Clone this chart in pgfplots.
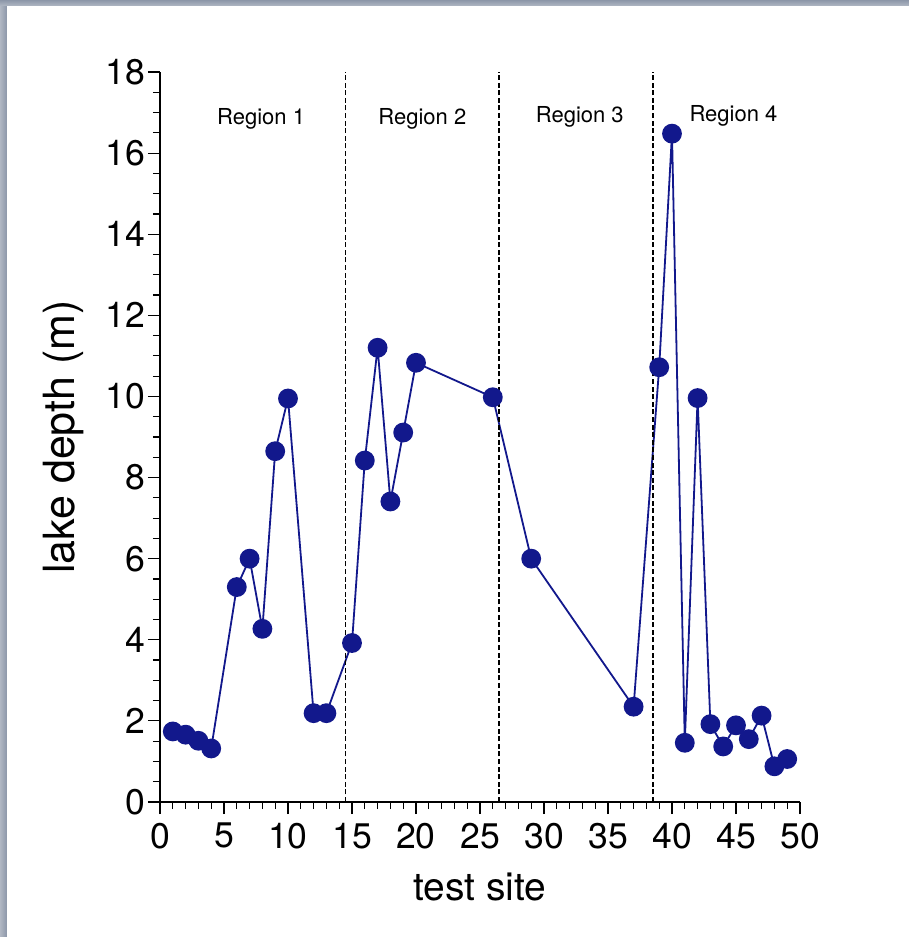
\documentclass[border=0pt]{standalone}
\usepackage{pgfplots}
\pgfplotsset{compat=1.18}
\usepackage{fontspec}
\setmainfont{TeX Gyre Heros}
\definecolor{navy}{RGB}{18,24,140}
\definecolor{frameA}{RGB}{140,150,168}
\definecolor{frameB}{RGB}{176,183,195}

\pgfplotstableread{
x y
1 1.74
2 1.66
3 1.51
4 1.32
6 5.30
7 6.00
8 4.27
9 8.65
10 9.95
12 2.19
13 2.19
15 3.92
16 8.42
17 11.20
18 7.41
19 9.11
20 10.83
26 9.98
29 6.00
37 2.35
39 10.72
40 16.48
41 1.46
42 9.96
43 1.92
44 1.37
45 1.89
46 1.55
47 2.13
48 0.88
49 1.06
}\depth

\begin{document}
\begin{tikzpicture}
\useasboundingbox (-80pt,-67.5pt) rectangle (374.5pt,401pt);
% page background and window edge
\fill[white] (-80pt,-67.5pt) rectangle (374.5pt,401pt);
\shade[left color=frameB, right color=frameA] (-80pt,-67.5pt) rectangle (-76.5pt,401pt);
\shade[top color=frameA, bottom color=frameB] (-80pt,398pt) rectangle (374.5pt,401pt);

\begin{axis}[
  at={(0pt,0pt)}, anchor=south west,
  scale only axis, width=320pt, height=365pt,
  xmin=0, xmax=50, ymin=0, ymax=18,
  axis x line*=bottom, axis y line*=left,
  axis line style={line width=0.7pt, black},
  xtick={0,5,...,50}, ytick={0,2,...,18},
  minor x tick num=4, minor y tick num=3,
  tick align=outside,
  major tick length=6pt, minor tick length=3.5pt,
  tick style={line width=0.6pt, black},
  /pgf/number format/assume math mode=true,
  ticklabel style={font=\fontsize{17.8}{20}\selectfont},
  xticklabel style={yshift=-1pt},
  yticklabel style={xshift=2pt},
  xlabel={test site}, ylabel={lake depth (m)},
  xlabel style={font=\fontsize{19.5}{22}\selectfont},
  ylabel style={font=\fontsize{21.5}{24}\selectfont},
  xlabel shift=5pt, ylabel shift=4pt,
  clip=false,
]
\addplot[navy, line width=0.9pt, mark=*, mark size=4.5pt,
  mark options={fill=navy, draw=navy}] table[x=x, y=y] {\depth};
\addplot[black, line width=0.75pt, dash pattern=on 2.5pt off 1.3pt] coordinates {(14.5,0) (14.5,18)};
\addplot[black, line width=0.75pt, dash pattern=on 2.5pt off 1.3pt] coordinates {(26.5,0) (26.5,18)};
\addplot[black, line width=0.75pt, dash pattern=on 2.5pt off 1.3pt] coordinates {(38.5,0) (38.5,18)};
\node[font=\fontsize{11}{13}\selectfont] at (axis cs:7.9,16.84) {Region 1};
\node[font=\fontsize{11}{13}\selectfont] at (axis cs:20.5,16.84) {Region 2};
\node[font=\fontsize{11}{13}\selectfont] at (axis cs:32.8,16.89) {Region 3};
\node[font=\fontsize{11}{13}\selectfont] at (axis cs:44.8,16.91) {Region 4};
\end{axis}
\end{tikzpicture}
\end{document}
